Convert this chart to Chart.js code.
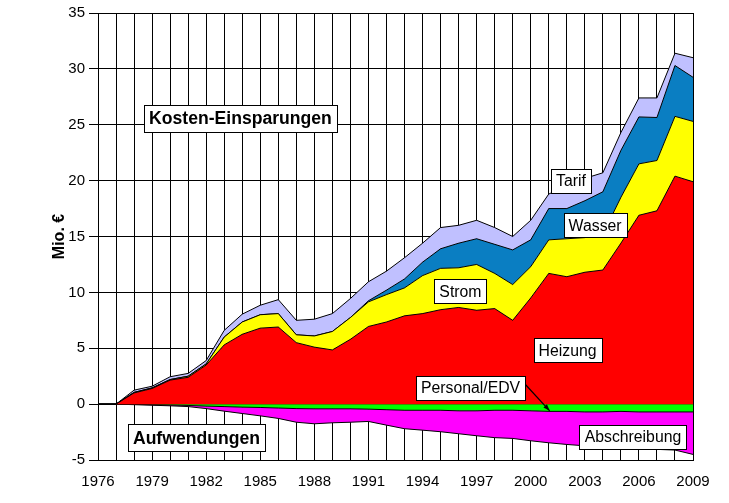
<!DOCTYPE html>
<html><head><meta charset="utf-8">
<script src="https://cdn.jsdelivr.net/npm/chart.js@4/dist/chart.umd.min.js"></script>
<style>html,body{margin:0;padding:0;background:#fff;overflow:hidden}</style>
</head><body>
<canvas id="c" width="729" height="503" style="display:block;width:729px;height:503px"></canvas>
<script>
const years = [1976,1977,1978,1979,1980,1981,1982,1983,1984,1985,1986,1987,1988,1989,1990,1991,1992,1993,1994,1995,1996,1997,1998,1999,2000,2001,2002,2003,2004,2005,2006,2007,2008,2009];
const heizung = [0,0,1.0,1.4,2.15,2.4,3.5,5.3,6.25,6.8,6.9,5.5,5.1,4.85,5.8,6.95,7.35,7.9,8.1,8.45,8.65,8.4,8.55,7.5,9.5,11.7,11.4,11.8,12.0,14.4,16.9,17.3,20.4,19.9];
const strom = [0,0,0.05,0.05,0.05,0.1,0.1,0.7,1.1,1.2,1.2,0.7,1.0,1.65,1.95,2.2,2.45,2.5,3.4,3.7,3.55,4.1,3.15,3.2,2.8,3.0,3.4,3.1,3.2,4.1,4.6,4.5,5.35,5.4];
const wasser = [0,0,0,0,0,0,0,0,0,0,0,0,0,0,0,0.1,0.4,0.8,1.2,1.75,2.2,2.3,2.6,3.1,2.4,2.8,2.7,3.3,3.8,4.2,4.2,3.85,4.55,3.95];
const tarif = [0,0,0.2,0.15,0.25,0.25,0.3,0.6,0.7,0.85,1.25,1.3,1.5,1.6,1.7,1.7,1.7,1.9,1.7,1.9,1.6,1.65,1.5,1.2,1.75,1.3,2.0,2.0,1.7,1.6,1.7,1.75,1.1,1.75];
const personalEdv = [0,0,-0.03,-0.05,-0.08,-0.12,-0.18,-0.22,-0.27,-0.3,-0.35,-0.4,-0.42,-0.42,-0.42,-0.45,-0.5,-0.55,-0.55,-0.55,-0.6,-0.6,-0.55,-0.55,-0.6,-0.65,-0.65,-0.7,-0.7,-0.65,-0.7,-0.7,-0.7,-0.7];
const abschreibung = [0,0,-0.02,-0.05,-0.07,-0.1,-0.22,-0.41,-0.57,-0.75,-0.93,-1.22,-1.34,-1.25,-1.2,-1.1,-1.38,-1.65,-1.78,-1.92,-2.05,-2.23,-2.45,-2.52,-2.68,-2.81,-2.96,-3.03,-3.15,-3.29,-3.3,-3.35,-3.41,-3.8];
const yTicks = [-5,0,5,10,15,20,25,30,35];
const xLabelEvery = 3;

const FONT = "'Liberation Sans', Arial, sans-serif";

// annotation labels (category index, value)
const notes = [
  {text:'Kosten-Einsparungen', x:7.9, y:25.6, bold:true},
  {text:'Aufwendungen', x:5.46, y:-3.0, bold:true},
  {text:'Tarif', x:26.23, y:20.0},
  {text:'Wasser', x:27.57, y:16.0},
  {text:'Strom', x:20.1, y:10.1},
  {text:'Heizung', x:26.04, y:4.8},
  {text:'Personal/EDV', x:20.66, y:1.48},
  {text:'Abschreibung', x:29.67, y:-2.9}
];
const arrow = {x1:23.68, y1:1.8, x2:25.05, y2:-0.6};

const notePlugin = {
  id:'notes',
  afterDatasetsDraw(chart){
    const ctx = chart.ctx, xs = chart.scales.x, ys = chart.scales.y;
    ctx.save();
    // arrow
    const ax1 = xs.getPixelForValue(arrow.x1), ay1 = ys.getPixelForValue(arrow.y1);
    const ax2 = xs.getPixelForValue(arrow.x2), ay2 = ys.getPixelForValue(arrow.y2);
    ctx.strokeStyle = '#000'; ctx.fillStyle = '#000'; ctx.lineWidth = 1.2;
    ctx.beginPath(); ctx.moveTo(ax1, ay1); ctx.lineTo(ax2, ay2); ctx.stroke();
    const ang = Math.atan2(ay2-ay1, ax2-ax1);
    ctx.beginPath();
    ctx.moveTo(ax2, ay2);
    ctx.lineTo(ax2 - 7*Math.cos(ang-0.35), ay2 - 7*Math.sin(ang-0.35));
    ctx.lineTo(ax2 - 7*Math.cos(ang+0.35), ay2 - 7*Math.sin(ang+0.35));
    ctx.closePath(); ctx.fill();
    for (const n of notes){
      const px = xs.getPixelForValue(n.x), py = ys.getPixelForValue(n.y);
      ctx.font = (n.bold ? 'bold 17.6px ' : '15.8px ') + FONT;
      const w = ctx.measureText(n.text).width;
      const bw = Math.round(w + 10), bh = n.bold ? 27 : 24;
      const bx = Math.round(px - bw/2) + 0.5, by = Math.round(py - bh/2) + 0.5;
      ctx.fillStyle = '#fff'; ctx.fillRect(bx, by, bw, bh);
      ctx.strokeStyle = '#000'; ctx.lineWidth = 1; ctx.strokeRect(bx, by, bw, bh);
      ctx.fillStyle = '#000'; ctx.textAlign = 'center'; ctx.textBaseline = 'middle';
      ctx.fillText(n.text, px, py + 1);
    }
    ctx.restore();
  }
};

function ds(label, data, color, fill){
  return {label, data, backgroundColor: color, borderColor:'#000', borderWidth:1, fill, pointRadius:0, tension:0};
}

new Chart(document.getElementById('c'), {
  type:'line',
  data:{
    labels: years.map(String),
    datasets:[
      ds('Heizung', heizung, '#FF0000', 'origin'),
      ds('Strom', strom, '#FFFF00', '-1'),
      ds('Wasser', wasser, '#0A7EC2', '-1'),
      ds('Tarif', tarif, '#C0C0FF', '-1'),
      ds('Personal/EDV', personalEdv, '#00FF00', 'origin'),
      ds('Abschreibung', abschreibung, '#FF00FF', '-1')
    ]
  },
  options:{
    responsive:false, animation:false, devicePixelRatio:1,
    layout:{padding:{left:0, right:36, top:13, bottom:0}},
    plugins:{legend:{display:false}, tooltip:{enabled:false}},
    scales:{
      x:{
        offset:false,
        grid:{color:'#000', lineWidth:1, drawTicks:false},
        border:{color:'#000', width:1},
        ticks:{autoSkip:false, maxRotation:0, minRotation:0, color:'#000', padding:13,
          font:{family:FONT, size:15},
          callback:function(v, i){ return ((years[i]-years[0]) % xLabelEvery === 0) ? String(years[i]) : ''; }},
        afterFit:function(s){ s.height = 43; }
      },
      y:{
        stacked:true, min:-5, max:35,
        afterBuildTicks:function(s){ s.ticks = yTicks.map(v=>({value:v})); },
        grid:{color:'#000', lineWidth:1, drawTicks:true, tickLength:9, tickColor:'#000'},
        border:{color:'#000', width:1},
        ticks:{color:'#000', padding:4, font:{family:FONT, size:15}},
        title:{display:true, text:'Mio. €', color:'#000', font:{family:FONT, size:16, weight:'bold'}, padding:{top:50, bottom:0}},
        afterFit:function(s){ s.width = 98; }
      }
    }
  },
  plugins:[notePlugin]
});
</script>
</body></html>
